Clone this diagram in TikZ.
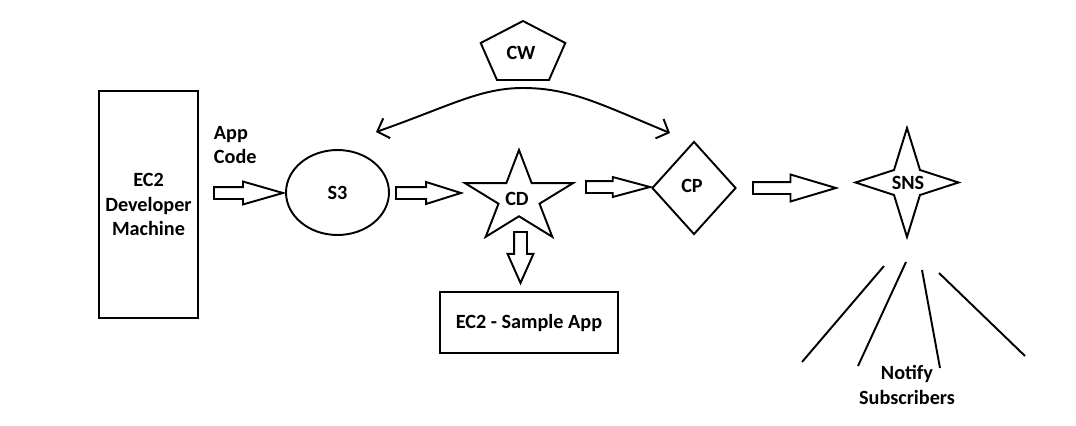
\documentclass[tikz,border=0pt]{standalone}
\usepackage{fontspec}
\setmainfont{Carlito}
\usetikzlibrary{shapes.geometric,shapes.arrows,arrows.meta}

\tikzset{
  blockarrow/.style={draw, single arrow, line width=1.1pt, inner xsep=0pt,
    inner ysep=0.1cm, single arrow head extend=0.11cm,
    single arrow tip angle=32, minimum height=#1, anchor=tail},
  boxnode/.style={draw, shape=rectangle, line width=1.1pt, align=center},
}

\begin{document}
\begin{tikzpicture}[x=0.02cm, y=-0.02cm, line width=1.1pt,
  font=\bfseries\fontsize{11.5pt}{13.8pt}\selectfont]
   \useasboundingbox (0,0) rectangle (1076,426);

   % left side
   \path (148.5,204.5) node[boxnode, minimum width=1.94cm, minimum height=4.54cm] (dev)
   {EC2\\Developer\\Machine};
   \path (213,145) node[anchor=west, align=left, inner sep=0pt] (app) {App\\Code};
   \path (213,193) node[blockarrow=1.38cm] (a1) {};
   \path (337.5,192.5) node[draw, ellipse, minimum width=2.06cm, minimum height=1.7cm] (s3) {S3};
   \path (395,193) node[blockarrow=1.3cm, single arrow head extend=0.1cm, single arrow tip angle=35] (a2) {};

   % CD star
   \draw (519,150) -- (531.7,183.2) -- (572.9,183.2) -- (539.5,203.7) -- (552.3,236.8)
     -- (519,216.3) -- (485.7,236.8) -- (498.5,203.7) -- (465.1,183.2) -- (506.3,183.2) -- cycle;
   \path (517,199) node (cd) {CD};
   \path (520.5,231) node[blockarrow=1.02cm, inner ysep=0pt, inner xsep=0.11cm, single arrow head extend=0.13cm,
     single arrow tip angle=48, shape border rotate=270] (a5) {};
   \path (529,322.5) node[boxnode, minimum width=3.56cm, minimum height=1.22cm] (sample) {EC2 - Sample App};

   % CP
   \path (585,187) node[blockarrow=1.28cm, single arrow head extend=0.08cm, single arrow tip angle=30] (a3) {};
   \path (694,188) node[draw, diamond, minimum width=1.68cm, minimum height=1.86cm, inner sep=0pt] (cp) {};
   \path (692,186) node (cptext) {CP};

   % CW watching both ends
   \draw (523,21) -- (565.3,43) -- (549,80) -- (497,80) -- (480.7,43) -- cycle;
   \path (521,53) node (cw) {CW};
   \coordinate (cwl) at (376,132);
   \coordinate (cwr) at (670,133);
   \draw[{Straight Barb[length=0.2cm,width=0.42cm]}-{Straight Barb[length=0.2cm,width=0.42cm]}]
     (cwl) .. controls (450,106) and (480,88) .. (523,88) .. controls (570,88) and (600,104) .. (cwr);

   % SNS
   \path (752,188) node[blockarrow=1.66cm, single arrow head extend=0.15cm, single arrow tip angle=33] (a4) {};
   \draw (907,128) -- (920,170) -- (958.5,182.5) -- (920,195) -- (907,237) -- (894,195)
     -- (855.5,182.5) -- (894,170) -- cycle;
   \path (908,183) node (sns) {SNS};
   \coordinate (s1) at (884,266);  \coordinate (t1) at (802,362);
   \coordinate (s2) at (906,262);  \coordinate (t2) at (858,366);
   \coordinate (s3a) at (922,270); \coordinate (t3) at (940,368);
   \coordinate (s4) at (939,273);  \coordinate (t4) at (1025,356);
   \draw (s1) -- (t1);
   \draw (s2) -- (t2);
   \draw (s3a) -- (t3);
   \draw (s4) -- (t4);
   \path (907,385) node[align=center, inner sep=0pt] (notify) {Notify\\Subscribers};
\end{tikzpicture}
\end{document}
